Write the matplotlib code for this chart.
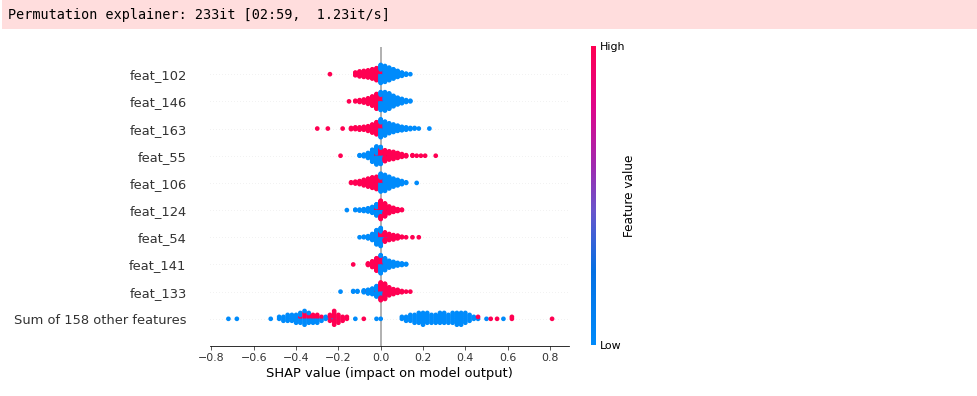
import numpy as np
import matplotlib
matplotlib.use("Agg")
import matplotlib.pyplot as plt
from matplotlib.colors import LinearSegmentedColormap
from matplotlib.patches import Rectangle

# rows from bottom to top
features = ["Sum of 158 other features", "feat_133", "feat_141", "feat_54", "feat_124",
            "feat_106", "feat_55", "feat_163", "feat_146", "feat_102"]

# SHAP values (bin centres) with how many low / high feature-value samples sit there
sum_vals = [-0.72, -0.68, -0.52, -0.48, -0.46, -0.44, -0.42, -0.40, -0.38, -0.36, -0.34, -0.32,
            -0.30, -0.28, -0.26, -0.24, -0.22, -0.20, -0.18, -0.16, -0.12, -0.08, -0.02, 0.00,
            0.10, 0.12, 0.14, 0.16, 0.18, 0.20, 0.22, 0.24, 0.26, 0.28, 0.30, 0.32, 0.34, 0.36,
            0.38, 0.40, 0.42, 0.44, 0.46, 0.50, 0.52, 0.55, 0.58, 0.62, 0.81]
sum_low = [1, 1, 1, 2, 3, 4, 4, 5, 5, 5, 4, 3,
           3, 2, 2, 1, 1, 0, 0, 0, 1, 0, 1, 1,
           2, 3, 4, 5, 6, 7, 6, 5, 5, 6, 6, 5, 6, 7,
           7, 6, 4, 2, 1, 1, 0, 0, 1, 0, 0]
sum_high = [0, 0, 0, 0, 0, 0, 0, 0, 1, 3, 2, 2,
            2, 1, 0, 3, 7, 5, 3, 2, 0, 1, 0, 0,
            0, 0, 0, 0, 0, 0, 0, 0, 0, 0, 0, 0, 0, 0,
            0, 0, 0, 0, 1, 0, 1, 1, 0, 2, 1]

f133_vals = [-0.19, -0.13, -0.11, -0.08, -0.06, -0.04, -0.02, 0.00, 0.02, 0.04, 0.06, 0.08, 0.10, 0.12, 0.14]
f133_low = [1, 2, 2, 4, 6, 10, 16, 10, 2, 0, 0, 0, 0, 0, 0]
f133_high = [0, 0, 0, 0, 1, 0, 2, 20, 24, 14, 9, 6, 3, 1, 1]

f141_vals = [-0.13, -0.06, -0.04, -0.02, 0.00, 0.02, 0.04, 0.06, 0.08, 0.10, 0.12]
f141_low = [0, 0, 0, 1, 20, 22, 14, 10, 6, 4, 2]
f141_high = [1, 4, 12, 24, 16, 2, 0, 0, 0, 0, 0]

f54_vals = [-0.10, -0.08, -0.06, -0.04, -0.02, 0.00, 0.02, 0.04, 0.06, 0.08, 0.10, 0.12, 0.15, 0.18]
f54_low = [1, 2, 5, 12, 26, 24, 4, 0, 0, 0, 0, 0, 0, 0]
f54_high = [0, 0, 0, 0, 1, 10, 14, 12, 9, 6, 2, 1, 1, 1]

f124_vals = [-0.16, -0.12, -0.10, -0.08, -0.06, -0.04, -0.02, 0.00, 0.02, 0.04, 0.06, 0.08, 0.10]
f124_low = [1, 2, 3, 5, 8, 14, 20, 14, 4, 0, 0, 0, 0]
f124_high = [0, 0, 0, 0, 0, 0, 6, 28, 26, 16, 10, 5, 2]

f106_vals = [-0.14, -0.12, -0.10, -0.08, -0.06, -0.04, -0.02, 0.00, 0.02, 0.04, 0.06, 0.08, 0.10, 0.12, 0.17]
f106_low = [0, 0, 0, 0, 0, 0, 1, 22, 26, 20, 14, 10, 6, 2, 1]
f106_high = [2, 4, 6, 10, 14, 18, 20, 8, 1, 0, 0, 0, 0, 0, 0]

f55_vals = [-0.19, -0.10, -0.08, -0.06, -0.04, -0.02, 0.00, 0.02, 0.04, 0.06, 0.08, 0.10, 0.12,
            0.15, 0.17, 0.19, 0.21, 0.26]
f55_low = [0, 2, 4, 10, 22, 30, 18, 3, 0, 0, 0, 0, 0, 0, 0, 0, 0, 0]
f55_high = [1, 0, 0, 0, 1, 4, 14, 18, 16, 14, 10, 6, 3, 2, 1, 1, 1, 1]

f163_vals = [-0.30, -0.25, -0.18, -0.14, -0.12, -0.10, -0.08, -0.06, -0.04, -0.02, 0.00,
             0.02, 0.04, 0.06, 0.08, 0.10, 0.12, 0.14, 0.16, 0.18, 0.23]
f163_low = [0, 0, 0, 0, 0, 0, 0, 0, 1, 2, 22, 24, 18, 14, 10, 7, 5, 3, 2, 1, 1]
f163_high = [1, 1, 1, 3, 4, 5, 6, 9, 14, 20, 10, 1, 0, 0, 0, 0, 0, 0, 0, 0, 0]

f146_vals = [-0.15, -0.12, -0.10, -0.08, -0.06, -0.04, -0.02, 0.00, 0.02, 0.04, 0.06, 0.08, 0.10, 0.12, 0.14]
f146_low = [0, 0, 0, 0, 0, 0, 1, 20, 30, 26, 18, 12, 8, 4, 2]
f146_high = [1, 2, 4, 6, 10, 16, 24, 10, 1, 0, 0, 0, 0, 0, 0]

f102_vals = [-0.24, -0.12, -0.10, -0.08, -0.06, -0.04, -0.02, 0.00, 0.02, 0.04, 0.06, 0.08, 0.10, 0.12, 0.14]
f102_low = [0, 0, 0, 0, 0, 0, 1, 26, 30, 24, 18, 12, 7, 3, 1]
f102_high = [1, 6, 10, 12, 14, 18, 22, 8, 0, 0, 0, 0, 0, 0, 0]

rows = [(sum_vals, sum_low, sum_high), (f133_vals, f133_low, f133_high),
        (f141_vals, f141_low, f141_high), (f54_vals, f54_low, f54_high),
        (f124_vals, f124_low, f124_high), (f106_vals, f106_low, f106_high),
        (f55_vals, f55_low, f55_high), (f163_vals, f163_low, f163_high),
        (f146_vals, f146_low, f146_high), (f102_vals, f102_low, f102_high)]

red_blue = LinearSegmentedColormap.from_list(
    "red_blue", [(0.0, "#008bfb"), (0.25, "#0570e3"), (0.45, "#6a55cc"),
                 (0.6, "#a02ab0"), (0.8, "#e0068a"), (1.0, "#ff0052")])

fig = plt.figure(figsize=(977 / 72, 396 / 72), dpi=72)

# jupyter stderr banner
fig.patches.append(Rectangle((2 / 977, 1 - 29 / 396), 1, 29 / 396, transform=fig.transFigure,
                             facecolor="#ffdddd", edgecolor="none", zorder=0))
fig.text(8 / 977, 1 - 15 / 396, "Permutation explainer: 233it [02:59,  1.23it/s]",
         family="DejaVu Sans Mono", fontsize=13.5, va="center", ha="left", color="#000000")

ax = fig.add_axes([210 / 977, 50 / 396, 359 / 977, 299 / 396])
axis_color = "#333333"
row_height = 0.4

for pos, (vals, n_low, n_high) in enumerate(rows):
    ax.axhline(y=pos, color="#cccccc", lw=0.5, dashes=(1, 5), zorder=-1)
    xs, cs = [], []
    for v, a, b in zip(vals, n_low, n_high):
        # interleave colours inside one bin
        seq = []
        i = j = 0
        while i < a or j < b:
            if i < a:
                seq.append(0.0); i += 1
            if j < b:
                seq.append(1.0); j += 1
        xs += [v] * len(seq)
        cs += seq
    xs = np.array(xs)
    cs = np.array(cs)
    ys = np.zeros(len(xs))
    layer = 0
    last = None
    for k in range(len(xs)):
        if xs[k] != last:
            layer = 0
        ys[k] = np.ceil(layer / 2) * ((layer % 2) * 2 - 1)
        layer += 1
        last = xs[k]
    ys *= 0.9 * (row_height / np.max(ys + 1))
    ax.scatter(xs, pos + ys, c=cs, cmap=red_blue, vmin=0, vmax=1, s=22, linewidth=0,
               alpha=1, zorder=3, rasterized=True)

ax.axvline(x=0, color="#999999", zorder=-1)
ax.set_xlim(-0.807, 0.89)
ax.set_ylim(-1, len(features))
ax.set_yticks(range(len(features)))
ax.set_yticklabels(features, fontsize=13)
ax.xaxis.set_ticks_position("bottom")
ax.yaxis.set_ticks_position("none")
for s in ["right", "top", "left"]:
    ax.spines[s].set_visible(False)
ax.tick_params(color=axis_color, labelcolor=axis_color)
ax.tick_params("y", length=20, width=0.5, which="major")
ax.tick_params("x", labelsize=11)
ax.set_xticks([-0.8, -0.6, -0.4, -0.2, 0.0, 0.2, 0.4, 0.6, 0.8])
ax.set_xlabel("SHAP value (impact on model output)", fontsize=13, color="#000000")

# colorbar
cax = fig.add_axes([591 / 977, 51 / 396, 5 / 977, 299 / 396])
grad = np.linspace(0, 1, 256).reshape(-1, 1)
cax.imshow(grad, aspect="auto", cmap=red_blue, origin="lower", extent=[0, 1, 0, 1])
cax.set_xticks([])
cax.yaxis.set_ticks_position("right")
cax.set_yticks([0, 1])
cax.set_yticklabels(["Low", "High"])
cax.tick_params(labelsize=11, length=0, labelcolor="#000000")
for s in cax.spines.values():
    s.set_visible(False)
cax.set_ylabel("Feature value", fontsize=12, labelpad=-2)
cax.yaxis.set_label_position("right")

fig.savefig("out.png", dpi=72)
